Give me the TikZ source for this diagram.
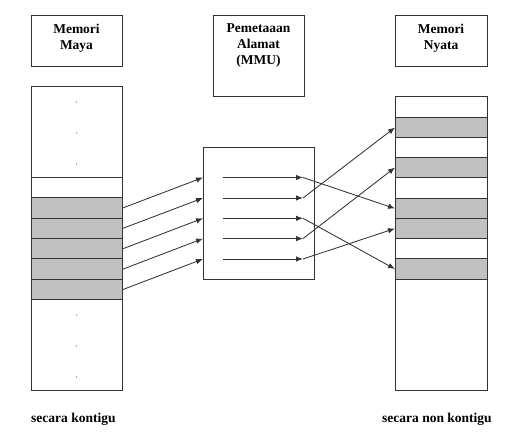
\documentclass[tikz,border=0pt]{standalone}
\usepackage{fontspec}
\setmainfont{Liberation Serif}
\usetikzlibrary{arrows.meta}
\definecolor{linec}{HTML}{333333}
\definecolor{cellg}{HTML}{C0C0C0}
\begin{document}
\begin{tikzpicture}[x=1pt,y=-1pt,
  outline/.style={draw=linec, line width=1pt},
  frame/.style={outline, rectangle, inner sep=0pt, anchor=north west},
  grayrow/.style={frame, fill=cellg, minimum width=91pt, minimum height=20.4pt},
  label/.style={font=\bfseries\fontsize{13.5}{16}\selectfont, inner sep=0pt, align=center, text=black},
  conn/.style={draw=linec, line width=0.85pt, -{Latex[length=7pt,width=5.5pt]}},
  dotm/.style={circle, fill=black!60, inner sep=0pt, minimum size=1.3pt}
]
\useasboundingbox (0,0) rectangle (519,434);

% header boxes
\node[frame, minimum width=91pt, minimum height=51pt] (hl) at (31,15) {};
\node[frame, minimum width=91pt, minimum height=81pt] (hm) at (213,15) {};
\node[frame, minimum width=92pt, minimum height=51pt] (hr) at (395,15) {};
\node[label, anchor=north] (tl) at (76.5,23.5) {Memori\\Maya};
\node[label, anchor=north] (tm) at (258.5,23.5) {Pemetaaan\\Alamat\\(MMU)};
\node[label, anchor=north] (tr) at (441,23.5) {Memori\\Nyata};

% left column (memori maya)
\node[frame, minimum width=91pt, minimum height=304pt] (lc) at (31,86) {};
\coordinate (lsa) at (31,177);
\coordinate (lsb) at (122,177);
\draw[outline] (lsa) -- (lsb);
\node[grayrow] (l1) at (31,197.2) {};
\node[grayrow] (l2) at (31,217.6) {};
\node[grayrow] (l3) at (31,238.0) {};
\node[grayrow] (l4) at (31,258.4) {};
\node[grayrow] (l5) at (31,278.8) {};
\foreach \yy/\nm in {102/d1,133/d2,164/d3,315/d4,346/d5,377/d6}
  \node[dotm] (\nm) at (76.5,\yy) {};

% right column (memori nyata)
\node[frame, minimum width=92pt, minimum height=294pt] (rc) at (395,96) {};
\node[grayrow, minimum width=92pt, minimum height=20pt] (r1) at (395,117) {};
\node[grayrow, minimum width=92pt, minimum height=20pt] (r2) at (395,157) {};
\node[grayrow, minimum width=92pt, minimum height=20pt] (r3) at (395,198) {};
\node[grayrow, minimum width=92pt, minimum height=20pt] (r4) at (395,218) {};
\node[grayrow, minimum width=92pt, minimum height=21pt] (r5) at (395,258) {};

% MMU box
\node[frame, minimum width=111pt, minimum height=132pt] (mmu) at (203,147) {};

% inner lines of the MMU
\foreach \i/\yy in {1/177.5,2/198,3/218.3,4/238.6,5/259}{
  \coordinate (m\i) at (203,\yy);
  \coordinate (s\i) at (223,\yy);
  \coordinate (t\i) at (303,\yy);
  \draw[conn] (s\i) -- (t\i);
}

% left -> MMU
\foreach \i in {1,...,5}
  \draw[conn] (l\i.east) -- (m\i);

% MMU -> right (non contiguous)
\draw[conn] (t1) -- (r3.west);
\draw[conn] (t2) -- (r1.west);
\draw[conn] (t3) -- (r5.west);
\draw[conn] (t4) -- (r2.west);
\draw[conn] (t5) -- (r4.west);

% captions
\node[label, anchor=base west] (cl) at (31,422) {secara kontigu};
\node[label, anchor=base west] (cr) at (382,422) {secara non kontigu};
\end{tikzpicture}
\end{document}
